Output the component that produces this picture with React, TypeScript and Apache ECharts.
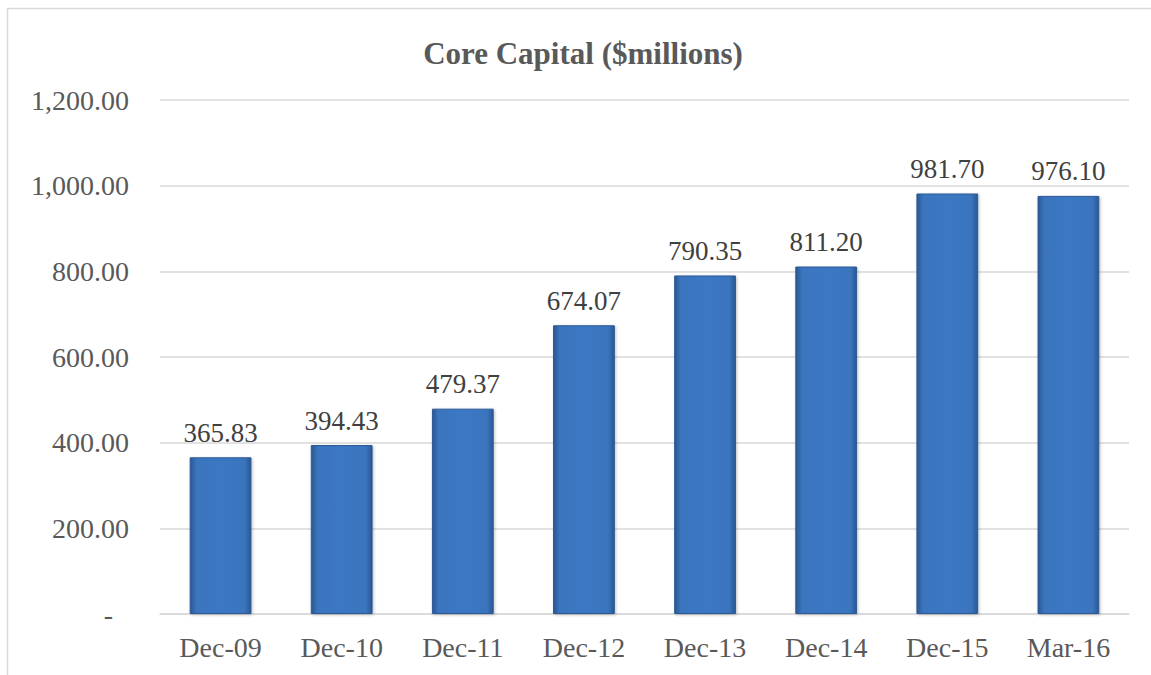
import React, { useEffect, useRef } from "react";
import * as echarts from "echarts";

const categories = ["Dec-09", "Dec-10", "Dec-11", "Dec-12", "Dec-13", "Dec-14", "Dec-15", "Mar-16"];
const values = [365.83, 394.43, 479.37, 674.07, 790.35, 811.2, 981.7, 976.1];
const titleText = "Core Capital ($millions)";

const FONT = "'Liberation Serif', 'Times New Roman', serif";

export default function App() {
  const ref = useRef<HTMLDivElement>(null);
  useEffect(() => {
    const chart = echarts.init(ref.current!, null, { renderer: "svg" });
    const fmt = (v: number) =>
      v.toLocaleString("en-US", { minimumFractionDigits: 2, maximumFractionDigits: 2 });
    chart.setOption({
      animation: false,
      backgroundColor: "#ffffff",
      graphic: [
        {
          type: "rect",
          shape: { x: 7.5, y: 8.5, width: 1160, height: 700 },
          style: { fill: "none", stroke: "#d9d9d9", lineWidth: 1.5 },
          silent: true,
        },
      ],
      title: {
        text: titleText,
        left: 578,
        top: 33,
        textAlign: "center",
        textStyle: { fontFamily: FONT, fontSize: 31, fontWeight: "bold", color: "#595959" },
      },
      grid: { left: 160, right: 22, top: 100, bottom: 61, containLabel: false },
      xAxis: {
        type: "category",
        data: categories,
        axisLine: { lineStyle: { color: "#d9d9d9", width: 1.5 } },
        axisTick: { show: false },
        axisLabel: { fontFamily: FONT, fontSize: 28, color: "#595959", margin: 19 },
      },
      yAxis: {
        type: "value",
        min: 0,
        max: 1200,
        interval: 200,
        axisLine: { show: false },
        axisTick: { show: false },
        splitLine: { lineStyle: { color: "#d9d9d9", width: 1.5 } },
        axisLabel: {
          fontFamily: FONT,
          fontSize: 28,
          color: "#595959",
          margin: 31,
          formatter: (v: number) => (v === 0 ? "{d|-}" : fmt(v)),
          rich: {
            d: { fontFamily: FONT, fontSize: 28, color: "#595959", padding: [0, 16, 0, 0] },
          },
        },
      },
      series: [
        {
          type: "bar",
          data: values,
          barCategoryGap: "49%",
          itemStyle: {
            color: {
              type: "linear",
              x: 0,
              y: 0,
              x2: 1,
              y2: 0,
              colorStops: [
                { offset: 0, color: "#2a5793" },
                { offset: 0.1, color: "#3a74bd" },
                { offset: 0.5, color: "#3b78c4" },
                { offset: 0.9, color: "#3a74bd" },
                { offset: 1, color: "#2a5793" },
              ],
            },
            borderColor: "#2c5a96",
            borderWidth: 1,
            shadowColor: "rgba(0,0,0,0.25)",
            shadowBlur: 3,
            shadowOffsetX: 1,
            shadowOffsetY: 1,
          },
          label: {
            show: true,
            position: "top",
            distance: 11,
            fontFamily: FONT,
            fontSize: 27,
            color: "#404040",
            formatter: (p: any) => fmt(p.value),
          },
        },
      ],
    });
    return () => chart.dispose();
  }, []);
  return <div ref={ref} style={{ width: 1151, height: 675, position: "absolute", left: 0, top: 0 }} />;
}
